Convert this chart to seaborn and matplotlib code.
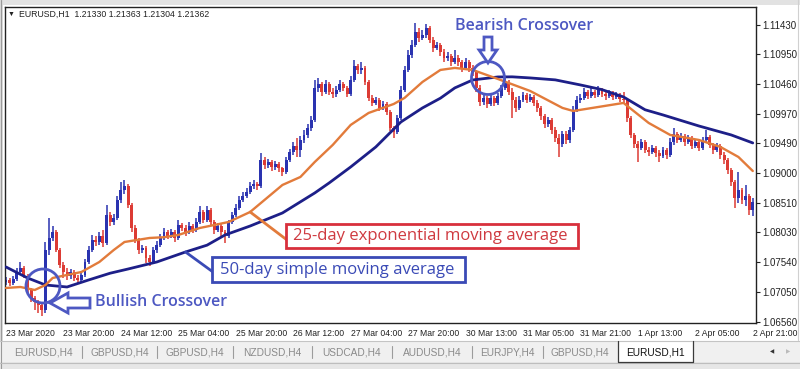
import numpy as np
import matplotlib
matplotlib.use("Agg")
import matplotlib.pyplot as plt
import seaborn as sns
from matplotlib.patches import Rectangle, Circle, Polygon

# ---- data (EURUSD, H1) ----
first_open = 1.0722

close = [
    1.0725, 1.0720, 1.0727, 1.0738, 1.0744, 1.0731, 1.0708, 1.0695, 1.0689, 1.0684,
    1.0676, 1.0774, 1.0793, 1.0804, 1.0774, 1.0750, 1.0738, 1.0731, 1.0738, 1.0728,
    1.0725, 1.0733, 1.0755, 1.0774, 1.0790, 1.0787, 1.0797, 1.0785, 1.0831, 1.0820,
    1.0826, 1.0856, 1.0872, 1.0879, 1.0848, 1.0810, 1.0790, 1.0774, 1.0777, 1.0761,
    1.0755, 1.0774, 1.0782, 1.0793, 1.0804, 1.0797, 1.0804, 1.0793, 1.0815, 1.0810,
    1.0804, 1.0813, 1.0807, 1.0820, 1.0837, 1.0823, 1.0840, 1.0820, 1.0807, 1.0813,
    1.0804, 1.0797, 1.0820, 1.0831, 1.0843, 1.0856, 1.0863, 1.0869, 1.0879, 1.0882,
    1.0879, 1.0922, 1.0913, 1.0918, 1.0910, 1.0915, 1.0908, 1.0902, 1.0922, 1.0935,
    1.0945, 1.0938, 1.0954, 1.0963, 1.0974, 1.0987, 1.1040, 1.1046, 1.1033, 1.1046,
    1.1033, 1.1030, 1.1036, 1.1046, 1.1040, 1.1030, 1.1053, 1.1076, 1.1069, 1.1072,
    1.1050, 1.1023, 1.1015, 1.1020, 1.1007, 1.1013, 1.1000, 1.0974, 1.0968, 1.0990,
    1.1036, 1.1069, 1.1094, 1.1110, 1.1132, 1.1122, 1.1127, 1.1138, 1.1118, 1.1105,
    1.1110, 1.1099, 1.1089, 1.1092, 1.1082, 1.1089, 1.1082, 1.1072, 1.1082, 1.1072,
    1.1066, 1.1040, 1.1017, 1.1023, 1.1013, 1.1023, 1.1015, 1.1027, 1.1040, 1.1050,
    1.1033, 1.1020, 1.1007, 1.1020, 1.1028, 1.1020, 1.1025, 1.1015, 1.1007, 1.0994,
    1.0981, 1.0987, 1.0971, 1.0958, 1.0948, 1.0964, 1.0954, 1.0971, 1.1004, 1.1020,
    1.1023, 1.1033, 1.1027, 1.1033, 1.1028, 1.1036, 1.1030, 1.1027, 1.1031, 1.1025,
    1.1028, 1.1022, 1.1020, 1.0990, 1.0963, 1.0948, 1.0941, 1.0951, 1.0938, 1.0935,
    1.0941, 1.0933, 1.0928, 1.0938, 1.0930, 1.0951, 1.0964, 1.0954, 1.0961, 1.0951,
    1.0958, 1.0945, 1.0951, 1.0941, 1.0954, 1.0959, 1.0946, 1.0938, 1.0945, 1.0930,
    1.0922, 1.0905, 1.0886, 1.0859, 1.0872, 1.0856, 1.0863, 1.0840, 1.0853,
]

high = [
    1.0730, 1.0728, 1.0732, 1.0744, 1.0755, 1.0748, 1.0734, 1.0711, 1.0699, 1.0692,
    1.0687, 1.0787, 1.0826, 1.0813, 1.0807, 1.0777, 1.0755, 1.0744, 1.0743, 1.0741,
    1.0733, 1.0738, 1.0760, 1.0780, 1.0799, 1.0797, 1.0804, 1.0807, 1.0848, 1.0837,
    1.0833, 1.0863, 1.0886, 1.0889, 1.0882, 1.0851, 1.0815, 1.0793, 1.0783, 1.0780,
    1.0766, 1.0779, 1.0788, 1.0800, 1.0810, 1.0807, 1.0809, 1.0807, 1.0823, 1.0818,
    1.0815, 1.0820, 1.0817, 1.0826, 1.0846, 1.0840, 1.0846, 1.0843, 1.0823, 1.0818,
    1.0817, 1.0807, 1.0823, 1.0837, 1.0849, 1.0863, 1.0869, 1.0876, 1.0886, 1.0889,
    1.0886, 1.0933, 1.0927, 1.0923, 1.0922, 1.0920, 1.0918, 1.0910, 1.0927, 1.0940,
    1.0951, 1.0958, 1.0961, 1.0971, 1.0981, 1.0994, 1.1053, 1.1056, 1.1049, 1.1053,
    1.1049, 1.1040, 1.1043, 1.1053, 1.1049, 1.1043, 1.1059, 1.1086, 1.1079, 1.1082,
    1.1076, 1.1053, 1.1028, 1.1025, 1.1023, 1.1018, 1.1017, 1.1004, 1.0977, 1.0995,
    1.1043, 1.1076, 1.1102, 1.1118, 1.1146, 1.1138, 1.1135, 1.1145, 1.1141, 1.1123,
    1.1115, 1.1113, 1.1104, 1.1099, 1.1095, 1.1102, 1.1094, 1.1086, 1.1089, 1.1086,
    1.1077, 1.1069, 1.1045, 1.1028, 1.1027, 1.1028, 1.1027, 1.1031, 1.1045, 1.1056,
    1.1053, 1.1040, 1.1025, 1.1027, 1.1033, 1.1031, 1.1030, 1.1028, 1.1020, 1.1010,
    1.0997, 1.0992, 1.0990, 1.0976, 1.0964, 1.0969, 1.0969, 1.0976, 1.1010, 1.1027,
    1.1030, 1.1040, 1.1036, 1.1040, 1.1036, 1.1043, 1.1040, 1.1036, 1.1036, 1.1035,
    1.1033, 1.1031, 1.1033, 1.1023, 1.0994, 1.0966, 1.0953, 1.0956, 1.0954, 1.0943,
    1.0946, 1.0945, 1.0938, 1.0943, 1.0941, 1.0958, 1.0974, 1.0968, 1.0966, 1.0964,
    1.0963, 1.0961, 1.0956, 1.0954, 1.0959, 1.0971, 1.0963, 1.0949, 1.0949, 1.0948,
    1.0935, 1.0925, 1.0908, 1.0889, 1.0902, 1.0876, 1.0881, 1.0866, 1.0859,
]

low = [
    1.0717, 1.0715, 1.0717, 1.0723, 1.0734, 1.0728, 1.0703, 1.0689, 1.0676, 1.0671,
    1.0666, 1.0671, 1.0766, 1.0788, 1.0771, 1.0744, 1.0728, 1.0725, 1.0727, 1.0723,
    1.0718, 1.0722, 1.0730, 1.0751, 1.0771, 1.0780, 1.0782, 1.0779, 1.0782, 1.0813,
    1.0815, 1.0823, 1.0851, 1.0866, 1.0843, 1.0804, 1.0785, 1.0767, 1.0769, 1.0753,
    1.0748, 1.0751, 1.0769, 1.0779, 1.0790, 1.0792, 1.0793, 1.0787, 1.0790, 1.0805,
    1.0797, 1.0800, 1.0802, 1.0804, 1.0817, 1.0818, 1.0820, 1.0815, 1.0800, 1.0804,
    1.0797, 1.0785, 1.0793, 1.0817, 1.0828, 1.0840, 1.0853, 1.0859, 1.0866, 1.0874,
    1.0872, 1.0876, 1.0907, 1.0908, 1.0904, 1.0905, 1.0902, 1.0895, 1.0899, 1.0918,
    1.0930, 1.0927, 1.0927, 1.0949, 1.0958, 1.0969, 1.0984, 1.1033, 1.1026, 1.1030,
    1.1028, 1.1023, 1.1025, 1.1033, 1.1035, 1.1025, 1.1026, 1.1050, 1.1063, 1.1063,
    1.1045, 1.1018, 1.1010, 1.1012, 1.1002, 1.1004, 1.0995, 1.0969, 1.0958, 1.0964,
    1.0987, 1.1033, 1.1066, 1.1089, 1.1107, 1.1115, 1.1118, 1.1122, 1.1113, 1.1099,
    1.1102, 1.1092, 1.1082, 1.1084, 1.1076, 1.1079, 1.1076, 1.1066, 1.1069, 1.1066,
    1.1059, 1.1033, 1.1010, 1.1012, 1.1007, 1.1010, 1.1010, 1.1012, 1.1023, 1.1036,
    1.1028, 1.0990, 1.1000, 1.1004, 1.1017, 1.1015, 1.1017, 1.1010, 1.1000, 1.0987,
    1.0974, 1.0976, 1.0964, 1.0951, 1.0927, 1.0943, 1.0948, 1.0949, 1.0968, 1.1000,
    1.1015, 1.1020, 1.1022, 1.1023, 1.1023, 1.1025, 1.1025, 1.1020, 1.1023, 1.1020,
    1.1022, 1.1017, 1.1013, 1.0984, 1.0958, 1.0941, 1.0918, 1.0938, 1.0933, 1.0928,
    1.0931, 1.0927, 1.0918, 1.0925, 1.0923, 1.0927, 1.0946, 1.0949, 1.0951, 1.0945,
    1.0948, 1.0940, 1.0941, 1.0936, 1.0938, 1.0949, 1.0941, 1.0931, 1.0935, 1.0923,
    1.0915, 1.0899, 1.0879, 1.0843, 1.0851, 1.0849, 1.0846, 1.0831, 1.0830,
]

# 50-period simple moving average (dark blue) read at these bars
sma_bars = [0, 6, 11, 17, 23, 29, 34, 42, 50, 56, 61, 68, 77, 86, 90, 96, 103,
            110, 116, 121, 125, 130, 137, 141, 146, 153, 160, 166, 172, 178, 183,
            193, 202, 208]
sma_vals = [1.07462, 1.07282, 1.07167, 1.07134, 1.07249, 1.07360, 1.07429, 1.07544,
            1.07708, 1.07820, 1.07987, 1.08134, 1.08348, 1.08676, 1.08840, 1.09102,
            1.09430, 1.09840, 1.10070, 1.10230, 1.10398, 1.10529, 1.10578, 1.10580,
            1.10562, 1.10530, 1.10447, 1.10370, 1.10250, 1.10040, 1.09955, 1.09774,
            1.09627, 1.09496]

# 25-period exponential moving average (orange)
ema_bars = [0, 4, 8, 11, 13, 17, 21, 26, 30, 33, 40, 44, 48, 54, 58, 62, 68, 77,
            82, 86, 91, 96, 101, 108, 111, 116, 121, 125, 130, 137, 146, 155, 158,
            165, 172, 179, 185, 193, 199, 204, 208]
ema_vals = [1.07118, 1.07134, 1.07085, 1.07167, 1.07282, 1.07331, 1.07380, 1.07544,
            1.07740, 1.07872, 1.07938, 1.07950, 1.07987, 1.08102, 1.08150, 1.08200,
            1.08364, 1.08807, 1.08938, 1.09184, 1.09463, 1.09791, 1.09988, 1.10135,
            1.10234, 1.10496, 1.10693, 1.10726, 1.10693, 1.10545, 1.10348, 1.10070,
            1.10020, 1.10086, 1.10152, 1.09824, 1.09627, 1.09545, 1.09430, 1.09266,
            1.09036]

price_ticks = [1.06560, 1.07050, 1.07540, 1.08030, 1.08510, 1.09000,
               1.09490, 1.09970, 1.10460, 1.10950, 1.11430]
time_tick_bars = [0, 16, 32, 48, 64, 80, 96, 112, 128, 144, 160, 176, 192, 208]
time_labels = ["23 Mar 2020", "23 Mar 20:00", "24 Mar 12:00", "25 Mar 04:00",
               "25 Mar 20:00", "26 Mar 12:00", "27 Mar 04:00", "27 Mar 20:00",
               "30 Mar 13:00", "31 Mar 05:00", "31 Mar 21:00", "1 Apr 13:00",
               "2 Apr 05:00", "2 Apr 21:00"]
tab_labels = ["EURUSD,H4", "GBPUSD,H4", "GBPUSD,H4", "NZDUSD,H4", "USDCAD,H4",
              "AUDUSD,H4", "EURJPY,H4", "GBPUSD,H4", "EURUSD,H1"]

# colours
BULL = "#2a33b0"
BEAR = "#dc3b34"
SMA_C = "#1d1f88"
EMA_C = "#e27b3b"
NOTE_C = "#4d58c2"
BOX_BLUE = "#3a4ab6"
BOX_RED = "#d8303c"

sns.set_style("white")
plt.rcParams['font.family'] = ['Liberation Sans', 'DejaVu Sans']

fig = plt.figure(figsize=(8, 3.69), dpi=100)
fig.patch.set_facecolor("white")
ax = fig.add_axes([5 / 800, 46 / 369, 751 / 800, 316 / 369])

# candles
close = np.array(close)
high = np.array(high)
low = np.array(low)
opens = np.r_[first_open, close[:-1]]
bars = np.arange(len(close))
cols = np.where(close >= opens, BULL, BEAR)
ax.vlines(bars, low, high, colors=cols, lw=1.1, zorder=2)
ax.bar(bars, close - opens, bottom=opens, width=0.82, color=cols, lw=0, zorder=2.5)

# moving averages
sns.lineplot(x=sma_bars, y=sma_vals, color=SMA_C, lw=2.0, ax=ax, zorder=3)
sns.lineplot(x=ema_bars, y=ema_vals, color=EMA_C, lw=1.7, ax=ax, zorder=3)

ax.set_xlim(-0.28, 208.9)
ax.set_ylim(1.065436, 1.117250)
ax.set_xlabel("")
ax.set_ylabel("")
ax.yaxis.tick_right()
ax.set_yticks(price_ticks)
ax.set_yticklabels([f"{v:.5f}" for v in price_ticks], fontsize=7, color="#222222")
ax.set_xticks(time_tick_bars)
ax.set_xticklabels(time_labels, fontsize=6.2, ha="left", color="#222222")
ax.tick_params(axis="both", length=3, width=0.8, color="#222222", pad=1.5)
for s in ax.spines.values():
    s.set_color("#222222")
    s.set_linewidth(1)

# overlay in screen pixels (top-left origin) for the window chrome and notes
ov = fig.add_axes([0, 0, 1, 1], zorder=5)
ov.set_xlim(0, 800)
ov.set_ylim(369, 0)
ov.axis("off")

ov.add_patch(Rectangle((0, 0), 800, 5, fc="#e2e2e2", ec="none"))
ov.add_patch(Rectangle((0, 0), 3, 369, fc="#dcdcdc", ec="none"))
ov.plot([1, 1], [0, 369], color="#9a9a9a", lw=0.8)
ov.plot([798, 798], [0, 340], color="#d0d0d0", lw=0.8)

# header
ov.text(8, 14, "\u25bc", fontsize=5, va="center", ha="left", color="#222222")
ov.text(19, 14, "EURUSD,H1  1.21330 1.21363 1.21304 1.21362", fontsize=6.3,
        va="center", ha="left", color="#222222")

# tab strip
ov.add_patch(Rectangle((0, 341), 800, 21, fc="#f0f0f0", ec="none"))
ov.plot([0, 800], [341, 341], color="#c4c4c4", lw=0.8)
ov.add_patch(Rectangle((0, 362), 800, 7, fc="#e6e6e6", ec="none"))
ov.plot([0, 800], [362.5, 362.5], color="#bdbdbd", lw=0.8)
tab_x = [43, 120, 195, 272, 352, 432, 507, 580, 655]
sep_x = [82, 157, 233, 312, 392, 472, 543]
for x in sep_x:
    ov.plot([x, x], [346, 358], color="#9c9c9c", lw=0.8)
ov.add_patch(Rectangle((618, 339), 75, 23, fc="white", ec="none"))
ov.plot([618, 618, 693, 693], [341, 362, 362, 341], color="#3a3a3a", lw=0.9)
for k, (x, lab) in enumerate(zip(tab_x, tab_labels)):
    active = k == len(tab_labels) - 1
    ov.text(x, 352.5, lab, fontsize=7.3, ha="center", va="center",
            color="#111111" if active else "#8a8a8a")
ov.text(772, 352, "\u25c0", fontsize=4, ha="center", va="center", color="#333333")
ov.text(788, 352, "\u25b6", fontsize=4, ha="center", va="center", color="#bbbbbb")

# bullish crossover
ov.add_patch(Circle((43, 286), 17, fc="none", ec=NOTE_C, lw=2, zorder=6))
ov.add_patch(Polygon([(50, 303), (68, 293), (68, 298), (90, 298), (90, 308),
                      (68, 308), (68, 313)], closed=True, fc="white", ec=NOTE_C,
                     lw=2, zorder=6))
ov.text(95, 302, "Bullish Crossover", fontsize=11.5, family="Open Sans",
        weight="semibold", color=NOTE_C, ha="left", va="center", zorder=6)

# bearish crossover
ov.add_patch(Circle((488, 78), 16.5, fc="none", ec=NOTE_C, lw=2, zorder=6))
ov.add_patch(Polygon([(488, 63), (479, 50), (484, 50), (484, 37), (492, 37),
                      (492, 50), (497, 50)], closed=True, fc="white", ec=NOTE_C,
                     lw=2, zorder=6))
ov.text(455, 26, "Bearish Crossover", fontsize=11.5, family="Open Sans",
        weight="semibold", color=NOTE_C, ha="left", va="center", zorder=6)

# moving average labels with leader lines
i_ema = ema_bars.index(68)
ov.annotate("", xy=(287, 240), xycoords="data",
            xytext=(ema_bars[i_ema], ema_vals[i_ema]), textcoords=ax.transData,
            arrowprops=dict(arrowstyle="-", color=EMA_C, lw=2, shrinkA=0, shrinkB=0),
            zorder=6)
ov.add_patch(Rectangle((286, 224), 292, 24, fc="white", ec=BOX_RED, lw=2, zorder=6))
ov.text(293, 236.5, "25-day exponential moving average", fontsize=12,
        family="Open Sans", weight="medium", color="#cf3a40", ha="left",
        va="center", zorder=7)

i_sma = sma_bars.index(50)
ov.annotate("", xy=(213, 272), xycoords="data",
            xytext=(sma_bars[i_sma], sma_vals[i_sma]), textcoords=ax.transData,
            arrowprops=dict(arrowstyle="-", color=BOX_BLUE, lw=2, shrinkA=0, shrinkB=0),
            zorder=6)
ov.add_patch(Rectangle((212, 257), 253, 25, fc="white", ec=BOX_BLUE, lw=2, zorder=6))
ov.text(220, 270, "50-day simple moving average", fontsize=12,
        family="Open Sans", weight="medium", color=BOX_BLUE, ha="left",
        va="center", zorder=7)

fig.savefig("out.png", dpi=100)
